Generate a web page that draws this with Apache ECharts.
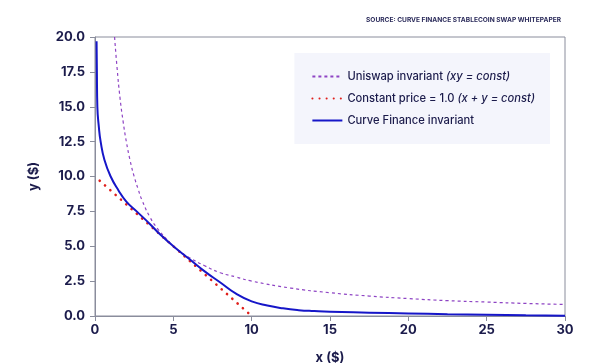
<!DOCTYPE html>
<html><head><meta charset="utf-8">
<script src="https://cdn.jsdelivr.net/npm/echarts@6/dist/echarts.min.js"></script>
<style>html,body{margin:0;padding:0;background:#fff}#c{width:598px;height:363px}</style>
</head><body><div id="c"></div>
<script>
const xTicks = [0, 5, 10, 15, 20, 25, 30];
const yTicks = [0, 2.5, 5, 7.5, 10, 12.5, 15, 17.5, 20];
const uniswapX = [1.25, 1.4, 1.6, 1.8, 2, 2.25, 2.5, 2.75, 3, 3.5, 4, 4.5, 5, 5.5, 6, 7, 8, 9, 10, 12.5, 15, 17.5, 20, 22.5, 25, 27.5, 30];
const uniswapY = [20, 17.9, 15.6, 13.9, 12.5, 11.1, 10, 9.1, 8.3, 7.1, 6.25, 5.6, 5, 4.55, 4.2, 3.6, 3.1, 2.8, 2.5, 2.0, 1.67, 1.43, 1.25, 1.1, 1.0, 0.9, 0.83];
const constX = [0.3, 9.8];
const constY = [9.7, 0.2];
const curveX = [0.1, 0.12, 0.15, 0.25, 0.36, 0.6, 1.0, 1.5, 2.0, 2.66, 3.5, 4.2, 5.0, 6.0, 7.0, 8.0, 9.0, 10.0, 11, 12, 13, 14, 15, 17.5, 20, 22.5, 25, 27.5, 30];
const curveY = [19.7, 17.5, 15.0, 13.5, 12.5, 11.2, 10.0, 9.0, 8.2, 7.5, 6.6, 5.8, 5.0, 4.1, 3.2, 2.4, 1.6, 1.05, 0.75, 0.55, 0.42, 0.35, 0.3, 0.24, 0.18, 0.13, 0.09, 0.05, 0.02];
const seriesNames = ['Uniswap invariant', 'Constant price = 1.0', 'Curve Finance invariant'];
const seriesNotes = ['(xy = const)', '(x + y = const)', ''];

const pair = (xs, ys) => xs.map((x, i) => [x, ys[i]]);
const navy = '#1b1b4b';
const fontFam = 'Inter, "Noto Sans", sans-serif';
const chart = echarts.init(document.getElementById('c'));
chart.setOption({
  animation: false,
  title: {
    text: 'SOURCE: CURVE FINANCE STABLECOIN SWAP WHITEPAPER',
    right: 32, top: 12,
    textStyle: { fontSize: 6.6, fontWeight: 'bold', color: '#2a2a5a', fontFamily: fontFam }
  },
  grid: { left: 95, right: 33, top: 37, bottom: 47, show: true, borderColor: '#8a8d9c', borderWidth: 1,
    outerBoundsMode: 'none', containLabel: false },
  legend: {
    right: 48, top: 53, orient: 'vertical',
    backgroundColor: '#f4f5fc',
    padding: [18, 15, 18, 17],
    itemWidth: 30, itemHeight: 10, itemGap: 11,
    itemStyle: { opacity: 0 },
    data: seriesNames,
    formatter: n => {
      const i = seriesNames.indexOf(n);
      return seriesNotes[i] ? n + ' {it|' + seriesNotes[i] + '}' : n;
    },
    textStyle: {
      fontSize: 11.2, color: navy, fontFamily: fontFam, fontWeight: 500,
      rich: { it: { fontStyle: 'italic', fontSize: 11.2, color: navy, fontFamily: fontFam, fontWeight: 500 } }
    }
  },
  xAxis: {
    type: 'value', min: 0, max: 30, interval: 5,
    name: 'x ($)', nameLocation: 'middle', nameGap: 36,
    nameTextStyle: { fontSize: 13, color: navy, fontWeight: 'bold', fontFamily: fontFam },
    axisLine: { lineStyle: { color: '#8a8d9c' } },
    axisTick: { show: true, length: 5, lineStyle: { color: '#8a8d9c' } },
    splitLine: { show: false },
    axisLabel: { fontSize: 13, fontWeight: 'bold', color: navy, fontFamily: fontFam, margin: 8,
      customValues: xTicks, formatter: v => String(v) }
  },
  yAxis: {
    type: 'value', min: 0, max: 20, interval: 2.5,
    name: 'y ($)', nameLocation: 'middle', nameGap: 54, nameRotate: 90,
    nameTextStyle: { fontSize: 13, color: navy, fontWeight: 'bold', fontFamily: fontFam },
    axisLine: { show: true, lineStyle: { color: '#8a8d9c' } },
    axisTick: { show: true, length: 5, lineStyle: { color: '#8a8d9c' } },
    splitLine: { show: false },
    axisLabel: { fontSize: 13, fontWeight: 'bold', color: navy, fontFamily: fontFam, margin: 10,
      customValues: yTicks, formatter: v => v.toFixed(1) }
  },
  series: [
    { name: seriesNames[0], type: 'line', smooth: true, symbol: 'none', data: pair(uniswapX, uniswapY),
      lineStyle: { color: '#8e44c4', width: 1.2, type: [3, 3] }, itemStyle: { color: '#8e44c4' } },
    { name: seriesNames[1], type: 'line', symbol: 'none', data: pair(constX, constY),
      lineStyle: { color: '#e0201c', width: 2.6, type: [0.1, 7], cap: 'round' }, itemStyle: { color: '#e0201c' } },
    { name: seriesNames[2], type: 'line', smooth: true, symbol: 'none', data: pair(curveX, curveY),
      lineStyle: { color: '#1616c8', width: 2 }, itemStyle: { color: '#1616c8' } }
  ]
});
</script></body></html>
